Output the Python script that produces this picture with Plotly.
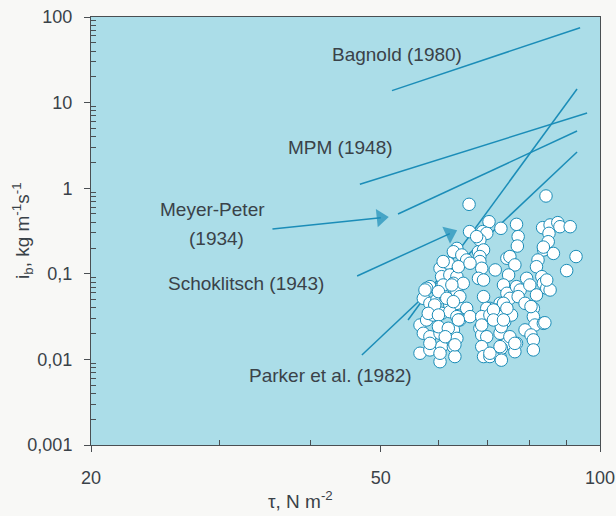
import plotly.graph_objects as go

# ---- data ----
tau_pts = [66.1, 84.3, 70.4, 66.2, 69.0, 69.9, 73.1, 76.8, 83.4, 85.4, 87.5, 88.1, 91.0, 85.1,
           68.4, 77.2, 77.0, 84.9, 83.7, 86.3, 92.7, 63.6, 62.9, 64.6, 65.6, 68.1, 69.2, 68.4, 68.4,
           68.8, 74.5, 75.2, 76.4, 82.2, 81.8, 71.8, 90.0, 60.3, 61.9, 60.9,
           60.6, 62.2, 63.6, 62.9, 58.4, 57.8, 60.6, 63.6, 64.9, 68.1, 69.2, 74.9, 73.7, 74.5, 76.8,
           77.7, 79.3, 80.1, 83.2, 83.6, 84.5, 85.4, 81.8,
           57.2, 58.4, 59.7, 61.3, 62.2, 63.6, 65.6, 69.2, 70.6, 72.9, 72.1, 75.2, 77.2, 78.9, 81.0, 69.9,
           56.6, 57.8, 59.0, 60.6, 62.2, 63.6, 64.2, 66.3, 68.8, 70.6, 72.9, 74.0, 75.6, 81.0, 81.4, 83.6, 78.9,
           57.2, 58.4, 60.3, 62.9, 63.6, 68.4, 68.8, 69.9, 72.9, 73.2, 74.5, 76.8, 80.4, 81.0,
           56.6, 58.4, 60.6, 62.9, 63.2, 68.8, 69.2, 70.6, 72.9, 73.2, 76.4, 81.0, 60.3,
           63.9, 66.3, 60.9, 62.6, 64.2, 57.5, 60.0, 61.6, 62.9, 59.3, 58.1, 60.0, 63.9, 60.0, 61.9,
           61.3, 58.4, 63.2, 60.3,
           67.7, 73.7, 71.4, 74.5, 71.4, 73.7, 68.8, 75.2, 70.6, 72.9, 73.2, 76.4,
           83.6, 84.5, 80.4, 84.0]
ib_pts = [0.648, 0.811, 0.406, 0.311, 0.311, 0.297, 0.340, 0.378, 0.346, 0.372, 0.396, 0.355, 0.355, 0.297,
          0.248, 0.272, 0.211, 0.237, 0.190, 0.173, 0.159, 0.198, 0.181, 0.166, 0.145, 0.181, 0.190, 0.159, 0.139,
          0.116, 0.152, 0.159, 0.127, 0.145, 0.121, 0.111, 0.109, 0.116, 0.133, 0.139,
          0.0926, 0.0968, 0.0926, 0.0774, 0.0708, 0.0677, 0.0708, 0.0619, 0.0774, 0.0885, 0.0846, 0.0968, 0.0740, 0.0592, 0.0708,
          0.0647, 0.0885, 0.0740, 0.0926, 0.0774, 0.0677, 0.0647, 0.0566,
          0.0517, 0.0452, 0.0494, 0.0541, 0.0432, 0.0452, 0.0395, 0.0541, 0.0395, 0.0452, 0.0378, 0.0517, 0.0541, 0.0452, 0.0395, 0.0395,
          0.0252, 0.0289, 0.0330, 0.0345, 0.0361, 0.0316, 0.0289, 0.0316, 0.0316, 0.0330, 0.0316, 0.0276, 0.0330, 0.0316, 0.0252, 0.0264, 0.0221,
          0.0202, 0.0184, 0.0202, 0.0221, 0.0176, 0.0231, 0.0193, 0.0184, 0.0202, 0.0241, 0.0154, 0.0154, 0.0193, 0.0169,
          0.0118, 0.0129, 0.0141, 0.0141, 0.0108, 0.0141, 0.0108, 0.0108, 0.0108, 0.0135, 0.0123, 0.0129, 0.0094,
          0.121, 0.133, 0.0740, 0.0740, 0.0541, 0.0647, 0.0619, 0.0517, 0.0473, 0.0432, 0.0345, 0.0330, 0.0289, 0.0241, 0.0231,
          0.0184, 0.0154, 0.0148, 0.0118,
          0.272, 0.0452, 0.0378, 0.0395, 0.0289, 0.0289, 0.0252, 0.0184, 0.0118, 0.0141, 0.0098, 0.0154,
          0.205, 0.0846, 0.0414, 0.0268]

# formula lines (tau, ib) end points
line_names = ["Bagnold (1980)", "MPM (1948)", "Meyer-Peter (1934)", "Schoklitsch (1943)", "Parker et al. (1982)"]
line_tau = [[51.8, 93.9], [46.8, 96.0], [52.8, 93.0], [54.5, 93.0], [47.1, 93.0]]
line_ib = [[13.8, 75.0], [1.11, 7.56], [0.50, 4.66], [0.0289, 14.4], [0.01125, 2.65]]

# leader arrows (tail -> head)
arrow_tau = [[35.5, 50.0], [46.4, 62.2]]
arrow_ib = [[0.334, 0.452], [0.0943, 0.295]]

label_texts = ["Bagnold (1980)", "MPM (1948)", "Meyer-Peter", "(1934)", "Schoklitsch (1943)", "Parker et al. (1982)"]
label_px = [[397, 55], [340, 147], [212, 209], [216, 238], [246, 283], [330, 375]]

x_tickvals = [20, 50, 100]
x_ticktext = ["20", "50", "100"]
x_minor = [30, 40, 60, 70, 80, 90]
y_tickvals = [0.001, 0.01, 0.1, 1, 10, 100]
y_ticktext = ["0,001", "0,01", "0,1", "1", "10", "100"]
y_minor = [m * 10 ** e for e in range(-3, 2) for m in range(2, 10)]

# ---- style ----
W, H = 616, 516
L, R, T, B = 91, 600, 17, 445
LINE_C = "#1b8db8"
TEXT_C = "#3a4248"
FONT = "Liberation Sans, Arial, sans-serif"


def xp(px):
    return (px - L) / (R - L)


def yp(py):
    return (B - py) / (B - T)


fig = go.Figure()

for nm, xs, ys in zip(line_names, line_tau, line_ib):
    fig.add_trace(go.Scatter(x=xs, y=ys, mode="lines", name=nm,
                             line=dict(color=LINE_C, width=1.5), showlegend=False,
                             hoverinfo="skip"))

for xs, ys in zip(arrow_tau, arrow_ib):
    fig.add_trace(go.Scatter(x=xs, y=ys, mode="lines+markers",
                             line=dict(color=LINE_C, width=1.5),
                             marker=dict(symbol="triangle-up", size=[0, 16], color=LINE_C,
                                         angleref="previous", line=dict(width=0)),
                             showlegend=False, hoverinfo="skip"))

fig.add_trace(go.Scatter(x=tau_pts, y=ib_pts, mode="markers",
                         marker=dict(symbol="circle", size=12.5, color="white",
                                     line=dict(color=LINE_C, width=1)),
                         showlegend=False))

for t, (px, py) in zip(label_texts, label_px):
    fig.add_annotation(x=xp(px), y=yp(py), xref="paper", yref="paper", text=t,
                       showarrow=False, xanchor="center", yanchor="middle",
                       font=dict(family=FONT, size=19, color=TEXT_C))

fig.add_annotation(x=xp(22), y=yp(231), xref="paper", yref="paper",
                   text="i<sub>b</sub>, kg m<sup>-1</sup>s<sup>-1</sup>", textangle=-90,
                   showarrow=False, xanchor="center", yanchor="middle",
                   font=dict(family=FONT, size=19, color=TEXT_C))
fig.add_annotation(x=xp(300), y=yp(500), xref="paper", yref="paper",
                   text="τ, N m<sup>-2</sup>",
                   showarrow=False, xanchor="center", yanchor="middle",
                   font=dict(family=FONT, size=19, color=TEXT_C))

axis_common = dict(showgrid=False, zeroline=False, showline=True, linecolor="#4a4f52",
                   linewidth=1, mirror=True, ticks="outside", ticklen=6, tickwidth=1,
                   automargin=False,
                   tickcolor="#4a4f52", tickfont=dict(family=FONT, size=18, color=TEXT_C))

fig.update_xaxes(type="log", range=[1.30103, 2], tickmode="array", tickvals=x_tickvals,
                 ticktext=x_ticktext, ticklabelstandoff=10,
                 minor=dict(tickmode="array", tickvals=x_minor, ticks="inside", ticklen=5,
                            tickcolor="#4a4f52", showgrid=False),
                 **axis_common)
fig.update_yaxes(type="log", range=[-3, 2], tickmode="array", tickvals=y_tickvals,
                 ticktext=y_ticktext, ticklabelstandoff=8,
                 minor=dict(tickmode="array", tickvals=y_minor, ticks="inside", ticklen=5,
                            tickcolor="#4a4f52", showgrid=False),
                 **axis_common)

fig.update_layout(width=W, height=H, margin=dict(l=L, r=W - R, t=T, b=H - B, autoexpand=False),
                  plot_bgcolor="#abdde8", paper_bgcolor="#f8f8f6",
                  showlegend=False, font=dict(family=FONT, color=TEXT_C))

fig.write_html("out.html")
